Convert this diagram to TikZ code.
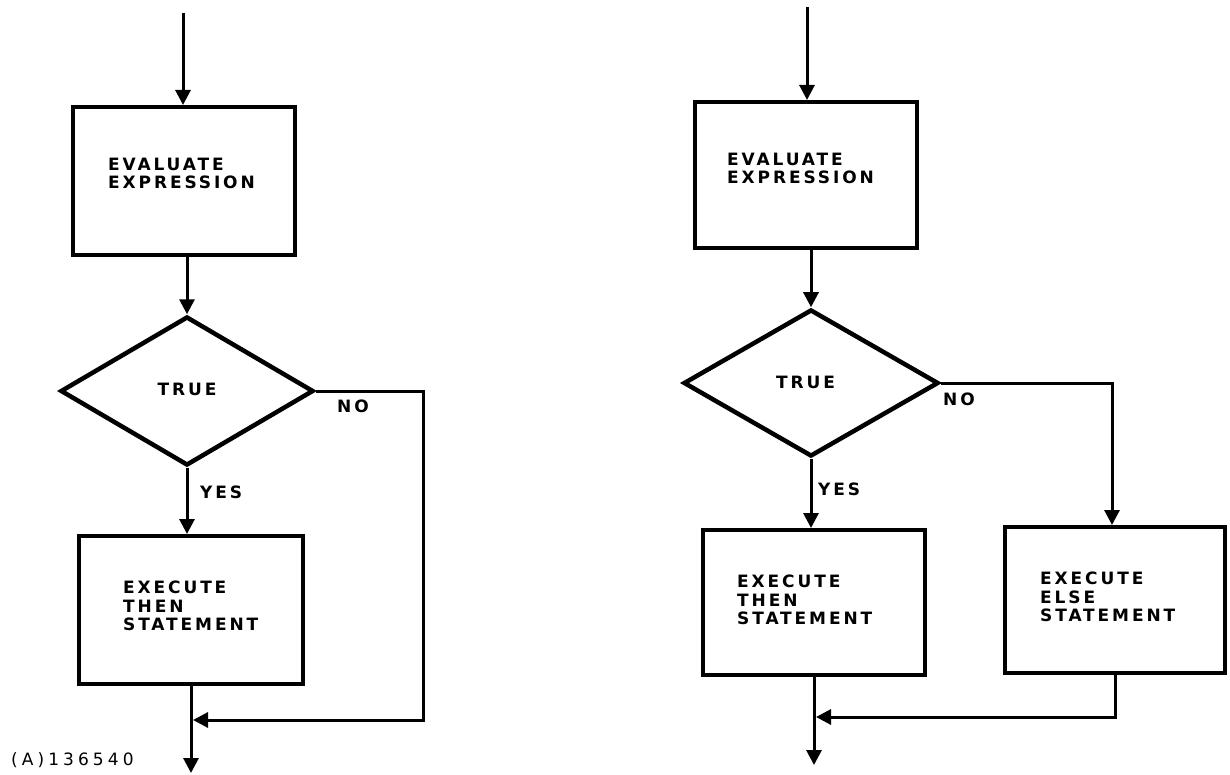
\documentclass[tikz,border=0pt]{standalone}
\usepackage{fontspec}
\setmainfont{DejaVu Sans}
\newfontfamily\lblfont[LetterSpace=17]{DejaVu Sans}
\newfontfamily\figfont[LetterSpace=24]{DejaVu Sans}
\usetikzlibrary{shapes.geometric,arrows.meta}
\tikzset{
  box/.style={draw, rectangle, line width=4pt, inner sep=0pt},
  dia/.style={draw, diamond, line width=4.5pt, inner sep=0pt},
  txt/.style={font=\lblfont\bfseries\fontsize{17}{18.2}\selectfont, align=left, inner sep=0pt, anchor=north west},
  lbl/.style={font=\lblfont\bfseries\fontsize{17}{18.2}\selectfont, inner sep=0pt},
  conn/.style={line width=3pt},
  arr/.style={conn, -{Triangle[length=15pt,width=15pt]}},
  figlbl/.style={font=\figfont\fontsize{17}{18}\selectfont, inner sep=0pt, anchor=north west}
}
\begin{document}
\begin{tikzpicture}[x=1pt,y=-1pt]
\useasboundingbox (0,0) rectangle (1230,775);

% ---------- left flowchart ----------
\node[box, minimum width=222pt, minimum height=148pt] (e1) at (184,181) {};
\node[txt] (e1t) at (108,158) {EVALUATE\\EXPRESSION};
\node[dia, minimum width=253pt, minimum height=149pt] (d1) at (187,391) {};
\node[lbl, anchor=north] (d1t) at (187,383) {TRUE};
\node[box, minimum width=224pt, minimum height=148pt] (t1) at (191,610) {};
\node[txt] (t1t) at (123,581) {EXECUTE\\THEN\\STATEMENT};
\node[lbl, anchor=north west] (no1) at (337,400) {NO};
\node[lbl, anchor=north west] (yes1) at (200,486) {YES};
\node[figlbl] (fig) at (11,752) {(A)136540};

\coordinate (s1) at (183,13);
\coordinate (m1) at (193,720);
\coordinate (o1) at (191,773);
\draw[arr] (s1) -- (s1 |- e1.north);
\draw[arr] (e1.south -| d1.north) -- (d1.north);
\draw[arr] (d1.south) -- (d1.south |- t1.north);
\draw[arr] (d1.east) -- ++(108,0) |- (m1);
\draw[arr] (t1.south) -- (o1);

% ---------- right flowchart ----------
\node[box, minimum width=222pt, minimum height=146pt] (e2) at (806,175) {};
\node[txt] (e2t) at (727,153) {EVALUATE\\EXPRESSION};
\node[dia, minimum width=255pt, minimum height=147pt] (d2) at (811,383) {};
\node[lbl, anchor=north] (d2t) at (805.5,376) {TRUE};
\node[box, minimum width=222pt, minimum height=145pt] (t2) at (814,602.5) {};
\node[txt] (t2t) at (737,575) {EXECUTE\\THEN\\STATEMENT};
\node[box, minimum width=220pt, minimum height=146pt] (el2) at (1115,600) {};
\node[txt] (el2t) at (1040,572) {EXECUTE\\ELSE\\STATEMENT};
\node[lbl, anchor=north west] (no2) at (943,393) {NO};
\node[lbl, anchor=north west] (yes2) at (818,483) {YES};

\coordinate (s2) at (807,7);
\coordinate (m2) at (816,717);
\coordinate (o2) at (814,765);
\draw[arr] (s2) -- (s2 |- e2.north);
\draw[arr] (e2.south -| d2.north) -- (d2.north);
\draw[arr] (d2.south) -- (d2.south |- t2.north);
\draw[arr] (d2.east) -| ([xshift=-3pt]el2.north);
\draw[arr] (el2.south) |- (m2);
\draw[arr] (t2.south) -- (o2);
\end{tikzpicture}
\end{document}
